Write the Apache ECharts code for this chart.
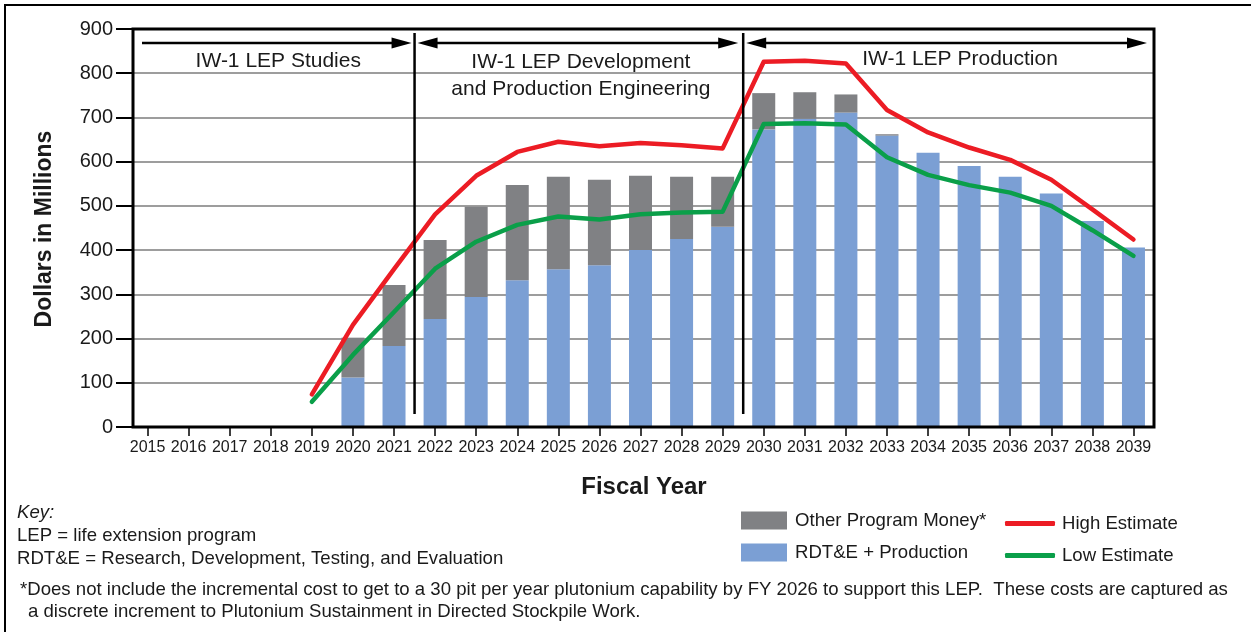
<!DOCTYPE html>
<html>
<head>
<meta charset="utf-8">
<script src="https://cdn.jsdelivr.net/npm/echarts@6/dist/echarts.min.js"></script>
<style>
  html, body { margin: 0; padding: 0; background: #fff; }
  #chart { width: 1251px; height: 632px; }
</style>
</head>
<body>
<div id="chart"></div>
<script>
// Fiscal years on the category axis
const years = ['2015','2016','2017','2018','2019','2020','2021','2022','2023','2024','2025','2026','2027',
               '2028','2029','2030','2031','2032','2033','2034','2035','2036','2037','2038','2039'];

// Stacked bars, dollars in millions
const rdteProduction    = [null,null,null,null,null,112,183,244,294,332,357,366,400,425,453,673,697,711,659,620,590,566,528,466,406];
const otherProgramMoney = [null,null,null,null,null, 90,138,179,204,215,209,193,168,141,113, 82, 60, 41,  3,  0,  0,  0,  0,  0,  0];

// Cost estimate range, dollars in millions
const highEstimate = [null,null,null,null, 74,231,357,481,568,622,645,635,642,637,630,826,828,822,717,666,632,604,559,492,424];
const lowEstimate  = [null,null,null,null, 57,163,260,358,419,457,476,469,481,485,487,685,687,684,610,570,547,530,500,445,387];

// Program phases: label and the last fiscal year of each phase
const phaseLabels = ['IW-1 LEP Studies', 'IW-1 LEP Development\nand Production Engineering', 'IW-1 LEP Production'];
const phaseEndYears = ['2021', '2029', '2039'];

const keyLines = ['LEP = life extension program', 'RDT&E = Research, Development, Testing, and Evaluation'];
const footnoteLines = [
  '*Does not include the incremental cost to get to a 30 pit per year plutonium capability by FY 2026 to support this LEP.  These costs are captured as',
  'a discrete increment to Plutonium Sustainment in Directed Stockpile Work.'
];

const FONT = "'Liberation Sans', Arial, Helvetica, sans-serif";
const INK = '#1a1a1a';
const BLUE = '#7b9fd4', GRAY = '#808184', RED = '#ec1c24', GREEN = '#0a9f49';
const NOTE_SIZE = 18.6;

const chart = echarts.init(document.getElementById('chart'));

const yBase = { type: 'value', position: 'left', min: 0, max: 900, interval: 100, offset: -6 };

const lineLegend = (name, top) => ({
  data: [name], left: 1005, top: top, orient: 'vertical', selectedMode: false, padding: 0,
  icon: 'roundRect', itemWidth: 50, itemHeight: 5,
  textStyle: { fontFamily: FONT, fontSize: NOTE_SIZE, color: INK, padding: [0, 0, 0, 2] }
});
const barLegend = (name, top) => ({
  data: [name], left: 741, top: top, orient: 'vertical', selectedMode: false, padding: 0,
  icon: 'rect', itemWidth: 46, itemHeight: 18,
  textStyle: { fontFamily: FONT, fontSize: NOTE_SIZE, color: INK, padding: [0, 0, 0, 3] }
});

chart.setOption({
  animation: false,
  backgroundColor: '#fff',
  textStyle: { fontFamily: FONT },
  grid: { left: 127, top: 29, width: 1027, height: 398, containLabel: false },
  xAxis: {
    type: 'category', data: years, boundaryGap: true,
    axisLine: { show: false },
    axisTick: { show: true, alignWithLabel: true, interval: 0, length: 9, lineStyle: { color: '#000', width: 1.5 } },
    axisLabel: { fontFamily: FONT, fontSize: 16, color: INK, margin: 13, interval: 0 }
  },
  yAxis: [
    Object.assign({}, yBase, {
      axisLine: { show: false }, axisTick: { show: false }, axisLabel: { show: false },
      splitLine: { show: true, lineStyle: { color: '#9d9d9d', width: 2 } }
    }),
    Object.assign({}, yBase, {
      axisLine: { show: false },
      axisTick: { show: true, length: 17, lineStyle: { color: '#000', width: 2 } },
      axisLabel: { fontFamily: FONT, fontSize: 20, color: INK, margin: 20 },
      splitLine: { show: false }
    })
  ],
  legend: [
    barLegend('Other Program Money*', 511),
    barLegend('RDT&E + Production', 543),
    lineLegend('High Estimate', 514),
    lineLegend('Low Estimate', 546)
  ],
  series: [
    { name: 'RDT&E + Production', type: 'bar', stack: 'cost', barWidth: 23, data: rdteProduction,
      itemStyle: { color: BLUE } },
    { name: 'Other Program Money*', type: 'bar', stack: 'cost', barWidth: 23, data: otherProgramMoney,
      itemStyle: { color: GRAY } },
    { name: 'High Estimate', type: 'line', data: highEstimate, showSymbol: false, symbol: 'none', z: 5,
      itemStyle: { color: RED },
      lineStyle: { color: RED, width: 4.5, cap: 'round', join: 'round' } },
    { name: 'Low Estimate', type: 'line', data: lowEstimate, showSymbol: false, symbol: 'none', z: 5,
      itemStyle: { color: GREEN },
      lineStyle: { color: GREEN, width: 4.5, cap: 'round', join: 'round' } }
  ]
});

// Frame, phase dividers, arrows and free text, placed from the axes' own scales
const px = (year) => chart.convertToPixel({ xAxisIndex: 0 }, year);
const py = (v) => chart.convertToPixel({ yAxisIndex: 0 }, v);
const step = px(years[1]) - px(years[0]);

const plotLeft = 133;
const plotRight = px(years[years.length - 1]) + step / 2;
const plotTop = py(900), plotBottom = py(0);

const bounds = phaseEndYears.slice(0, 2).map(y => px(y) + step / 2);
const arrowY = 43;
const lineTop = 33, lineBottom = 414;

const els = [];
// outer border of the figure
els.push({ type: 'polyline', shape: { points: [[5, 640], [5, 5], [1260, 5]] },
  style: { stroke: '#000', lineWidth: 2, fill: null }, z: 100 });
// plot frame
els.push({ type: 'rect', shape: { x: plotLeft, y: plotTop, width: plotRight - plotLeft, height: plotBottom - plotTop },
  style: { stroke: '#000', lineWidth: 3, fill: null }, z: 100 });
// phase dividers
bounds.forEach(b => els.push({ type: 'line', shape: { x1: b, y1: lineTop, x2: b, y2: lineBottom },
  style: { stroke: '#000', lineWidth: 2.5 }, z: 100 }));

function arrow(x1, x2, leftHead, rightHead) {
  const hl = 20, hw = 5.5;
  els.push({ type: 'line', shape: { x1: leftHead ? x1 + hl - 2 : x1, y1: arrowY, x2: rightHead ? x2 - hl + 2 : x2, y2: arrowY },
    style: { stroke: '#000', lineWidth: 2.5 }, z: 100 });
  if (rightHead) els.push({ type: 'polygon', shape: { points: [[x2, arrowY], [x2 - hl, arrowY - hw], [x2 - hl, arrowY + hw]] },
    style: { fill: '#000' }, z: 100 });
  if (leftHead) els.push({ type: 'polygon', shape: { points: [[x1, arrowY], [x1 + hl, arrowY - hw], [x1 + hl, arrowY + hw]] },
    style: { fill: '#000' }, z: 100 });
}
arrow(plotLeft + 9, bounds[0] - 3, false, true);
arrow(bounds[0] + 3, bounds[1] - 5, true, true);
arrow(bounds[1] + 3, plotRight - 7, true, true);

const phaseText = (text, x, y, lh) => ({ type: 'text', x: x, y: y, z: 100,
  style: { text: text, fill: INK, font: '21px ' + FONT, align: 'center', verticalAlign: 'middle', lineHeight: lh || 27 } });
els.push(phaseText(phaseLabels[0], (plotLeft + 9 + bounds[0]) / 2, 61));
els.push(phaseText(phaseLabels[1], (bounds[0] + bounds[1]) / 2 + 2, 75.5, 27));
els.push(phaseText(phaseLabels[2], 960, 59));

// axis titles
els.push({ type: 'text', x: 644, y: 487, z: 100,
  style: { text: 'Fiscal Year', fill: INK, font: 'bold 24px ' + FONT, align: 'center', verticalAlign: 'middle' } });
els.push({ type: 'text', x: 45, y: 229, rotation: Math.PI / 2, z: 100,
  style: { text: 'Dollars in Millions', fill: INK, font: 'bold 23px ' + FONT, align: 'center', verticalAlign: 'middle' } });

// key and footnote
els.push({ type: 'text', x: 17, y: 513, z: 100,
  style: { text: 'Key:', fill: INK, font: 'italic ' + NOTE_SIZE + 'px ' + FONT, align: 'left', verticalAlign: 'middle' } });
keyLines.forEach((t, i) => els.push({ type: 'text', x: 17, y: 536 + i * 22.5, z: 100,
  style: { text: t, fill: INK, font: NOTE_SIZE + 'px ' + FONT, align: 'left', verticalAlign: 'middle' } }));
footnoteLines.forEach((t, i) => els.push({ type: 'text', x: i === 0 ? 20 : 28, y: 590 + i * 22, z: 100,
  style: { text: t, fill: INK, font: NOTE_SIZE + 'px ' + FONT, align: 'left', verticalAlign: 'middle' } }));

chart.setOption({ graphic: { elements: els } });
</script>
</body>
</html>
